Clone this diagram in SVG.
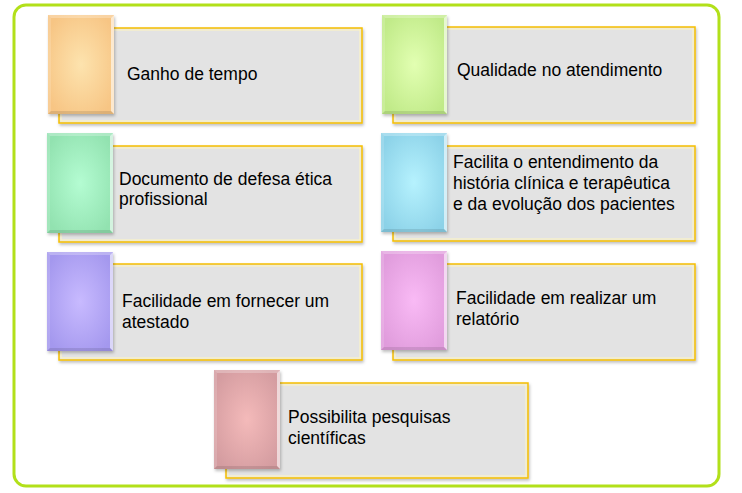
<svg xmlns="http://www.w3.org/2000/svg" width="742" height="493" viewBox="0 0 742 493">
<defs>
<filter id="sh" x="-10%" y="-10%" width="125%" height="130%">
<feDropShadow dx="1" dy="2" stdDeviation="1.5" flood-color="#000" flood-opacity="0.25"/>
</filter>
<radialGradient id="g1" cx="0.5" cy="0.5" r="0.6"><stop offset="0" stop-color="#fde3ae"/><stop offset="1" stop-color="#f7c584"/></radialGradient>
<radialGradient id="g2" cx="0.5" cy="0.5" r="0.6"><stop offset="0" stop-color="#e2ffb2"/><stop offset="1" stop-color="#c0ea88"/></radialGradient>
<radialGradient id="g3" cx="0.5" cy="0.5" r="0.6"><stop offset="0" stop-color="#b4fcd2"/><stop offset="1" stop-color="#92e2b0"/></radialGradient>
<radialGradient id="g4" cx="0.5" cy="0.5" r="0.6"><stop offset="0" stop-color="#b6f2fe"/><stop offset="1" stop-color="#8cd2e8"/></radialGradient>
<radialGradient id="g5" cx="0.5" cy="0.5" r="0.6"><stop offset="0" stop-color="#c8baff"/><stop offset="1" stop-color="#a498ee"/></radialGradient>
<radialGradient id="g6" cx="0.5" cy="0.5" r="0.6"><stop offset="0" stop-color="#f9baf5"/><stop offset="1" stop-color="#e09cdc"/></radialGradient>
<radialGradient id="g7" cx="0.5" cy="0.5" r="0.6"><stop offset="0" stop-color="#f4baba"/><stop offset="1" stop-color="#d49ca0"/></radialGradient>
</defs>
<style>
.frame{fill:#fff;stroke:#b2e01a;stroke-width:3}
.box{fill:#e3e3e3;stroke:#f6bf00;stroke-width:1.5}
.boxhi{fill:none;stroke:#fff6c0;stroke-width:1}
.sq{stroke:none}
.bt{fill:#fff;opacity:0.25}
.br{fill:#fff;opacity:0.6}
.bb{fill:#000;opacity:0.1}
.bl{fill:#fff;opacity:0.15}
text{font-family:"Liberation Sans",Arial,sans-serif;font-size:17.5px;fill:#000}
</style>
<rect class="frame" x="14" y="5" width="705" height="481" rx="12" ry="12"/>

<g id="n1" transform="translate(48,15)">
<g filter="url(#sh)"><rect class="box" x="11" y="13" width="303" height="95"/></g>
<rect class="boxhi" x="13" y="15" width="299" height="91"/>
<g filter="url(#sh)"><rect class="sq" width="66" height="99" fill="url(#g1)"/></g>
<polygon class="bt" points="0,0 66,0 63,3 3,3"/>
<polygon class="bl" points="0,0 3,3 3,96 0,99"/>
<polygon class="br" points="66,0 66,99 63,96 63,3"/>
<polygon class="bb" points="0,99 3,96 63,96 66,99"/>
<text x="79" y="65">Ganho de tempo</text>
</g>

<g id="n2" transform="translate(382,15)">
<g filter="url(#sh)"><rect class="box" x="11" y="12" width="302" height="96"/></g>
<rect class="boxhi" x="13" y="14" width="298" height="92"/>
<g filter="url(#sh)"><rect class="sq" width="65" height="99" fill="url(#g2)"/></g>
<polygon class="bt" points="0,0 65,0 62,3 3,3"/>
<polygon class="bl" points="0,0 3,3 3,96 0,99"/>
<polygon class="br" points="65,0 65,99 62,96 62,3"/>
<polygon class="bb" points="0,99 3,96 62,96 65,99"/>
<text x="75" y="61">Qualidade no atendimento</text>
</g>

<g id="n3" transform="translate(47,133)">
<g filter="url(#sh)"><rect class="box" x="12" y="13" width="303" height="96"/></g>
<rect class="boxhi" x="14" y="15" width="299" height="92"/>
<g filter="url(#sh)"><rect class="sq" width="66" height="100" fill="url(#g3)"/></g>
<polygon class="bt" points="0,0 66,0 63,3 3,3"/>
<polygon class="bl" points="0,0 3,3 3,97 0,100"/>
<polygon class="br" points="66,0 66,100 63,97 63,3"/>
<polygon class="bb" points="0,100 3,97 63,97 66,100"/>
<text x="72" y="52">Documento de defesa ética</text>
<text x="72" y="72">profissional</text>
</g>

<g id="n4" transform="translate(381,133)">
<g filter="url(#sh)"><rect class="box" x="12" y="13" width="302" height="95"/></g>
<rect class="boxhi" x="14" y="15" width="298" height="91"/>
<g filter="url(#sh)"><rect class="sq" width="66" height="99" fill="url(#g4)"/></g>
<polygon class="bt" points="0,0 66,0 63,3 3,3"/>
<polygon class="bl" points="0,0 3,3 3,96 0,99"/>
<polygon class="br" points="66,0 66,99 63,96 63,3"/>
<polygon class="bb" points="0,99 3,96 63,96 66,99"/>
<text x="72" y="35">Facilita o entendimento da</text>
<text x="72" y="56">história clínica e terapêutica</text>
<text x="72" y="77">e da evolução dos pacientes</text>
</g>

<g id="n5" transform="translate(47,252)">
<g filter="url(#sh)"><rect class="box" x="12" y="12" width="303" height="96"/></g>
<rect class="boxhi" x="14" y="14" width="299" height="92"/>
<g filter="url(#sh)"><rect class="sq" width="66" height="99" fill="url(#g5)"/></g>
<polygon class="bt" points="0,0 66,0 63,3 3,3"/>
<polygon class="bl" points="0,0 3,3 3,96 0,99"/>
<polygon class="br" points="66,0 66,99 63,96 63,3"/>
<polygon class="bb" points="0,99 3,96 63,96 66,99"/>
<text x="75" y="55">Facilidade em fornecer um</text>
<text x="75" y="76">atestado</text>
</g>

<g id="n6" transform="translate(381,251)">
<g filter="url(#sh)"><rect class="box" x="12" y="13" width="302" height="96"/></g>
<rect class="boxhi" x="14" y="15" width="298" height="92"/>
<g filter="url(#sh)"><rect class="sq" width="66" height="99" fill="url(#g6)"/></g>
<polygon class="bt" points="0,0 66,0 63,3 3,3"/>
<polygon class="bl" points="0,0 3,3 3,96 0,99"/>
<polygon class="br" points="66,0 66,99 63,96 63,3"/>
<polygon class="bb" points="0,99 3,96 63,96 66,99"/>
<text x="75" y="53">Facilidade em realizar um</text>
<text x="75" y="74">relatório</text>
</g>

<g id="n7" transform="translate(214,370)">
<g filter="url(#sh)"><rect class="box" x="12" y="13" width="302" height="95"/></g>
<rect class="boxhi" x="14" y="15" width="298" height="91"/>
<g filter="url(#sh)"><rect class="sq" width="66" height="99" fill="url(#g7)"/></g>
<polygon class="bt" points="0,0 66,0 63,3 3,3"/>
<polygon class="bl" points="0,0 3,3 3,96 0,99"/>
<polygon class="br" points="66,0 66,99 63,96 63,3"/>
<polygon class="bb" points="0,99 3,96 63,96 66,99"/>
<text x="74" y="53">Possibilita pesquisas</text>
<text x="74" y="74">científicas</text>
</g>
</svg>
